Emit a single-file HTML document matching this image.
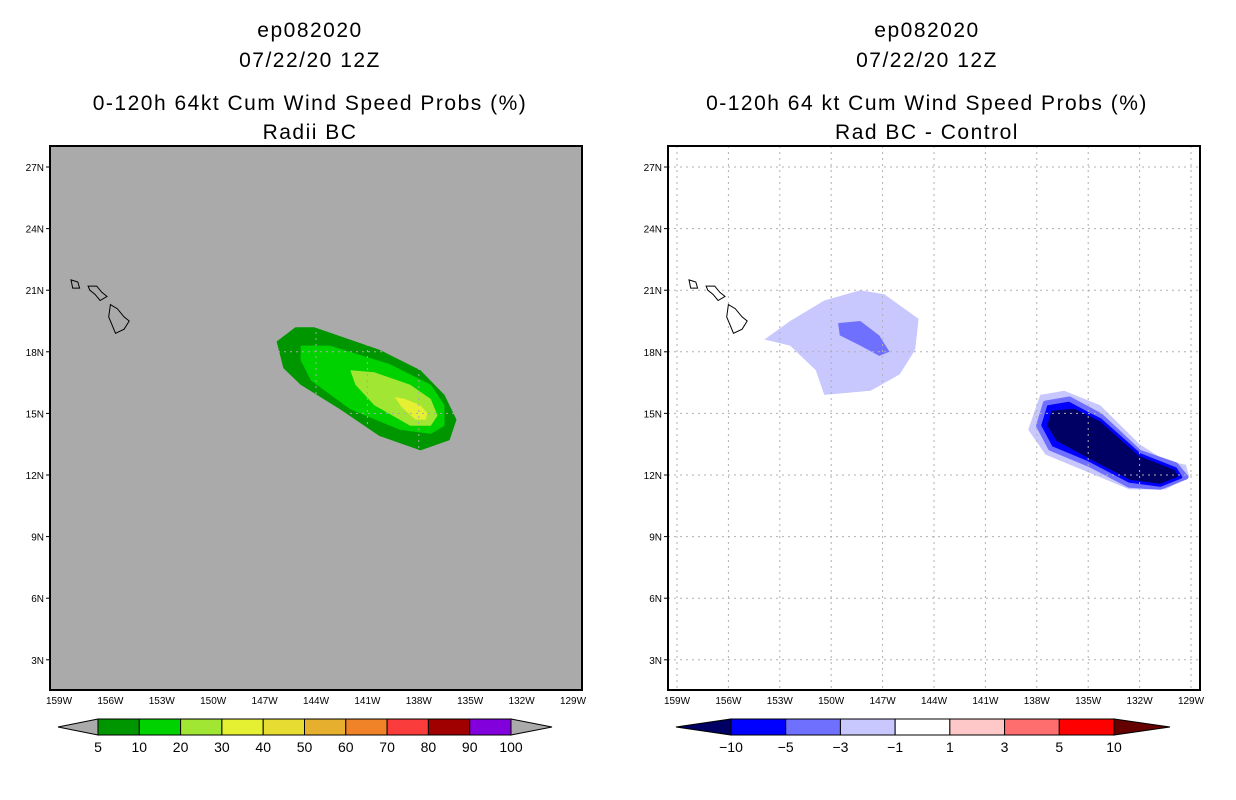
<!DOCTYPE html>
<html><head><meta charset="utf-8"><style>
body{margin:0;background:#fff;width:1236px;height:800px;overflow:hidden}
svg{display:block}
text{font-family:"Liberation Sans",sans-serif}
</style></head><body>
<svg id="s" width="1236" height="800"></svg>
<script>
const lonTicks=[-159,-156,-153,-150,-147,-144,-141,-138,-135,-132,-129];
const latTicks=[27,24,21,18,15,12,9,6,3];
const leftLevels=["5","10","20","30","40","50","60","70","80","90","100"];
const leftColors=["#009600","#00d200","#a0e632","#e6f032","#e6dc32","#e6af2d","#f08228","#fa3c3c","#a00000","#8200dc"];
const rightLevels=["-10","-5","-3","-1","1","3","5","10"];
const rightColors=["#0000ff","#7070ff","#c8c8ff","#ffffff","#ffc8c8","#ff6e6e","#ff0000"];
const left5=[[-146.3,18.5],[-145.2,19.2],[-144.1,19.2],[-140.3,18.1],[-137.9,17.1],[-136.5,15.9],[-135.8,14.7],[-136.2,13.7],[-137.9,13.2],[-140.3,13.9],[-142.6,15.2],[-144.9,16.4],[-145.9,17.2]];
const left10=[[-144.9,18.3],[-143.2,18.3],[-139.7,17.4],[-137.3,16.4],[-136.5,15.4],[-136.5,14.4],[-137.3,14.0],[-139.1,14.2],[-142.0,15.2],[-144.3,16.6],[-144.9,17.6]];
const left20=[[-142.0,17.1],[-140.6,17.0],[-138.5,16.4],[-137.3,15.7],[-136.9,14.9],[-137.3,14.4],[-138.5,14.4],[-140.6,15.4],[-141.7,16.4]];
const left30=[[-139.4,15.8],[-138.8,15.7],[-137.9,15.4],[-137.5,15.0],[-137.6,14.7],[-138.2,14.7],[-139.0,15.3]];
const rUpLight=[[-153.9,18.6],[-152.4,19.5],[-150.4,20.5],[-148.3,21.0],[-146.9,20.8],[-144.9,19.6],[-145.1,18.1],[-146.0,16.9],[-147.7,16.1],[-150.4,15.9],[-150.9,17.1],[-152.4,18.3]];
const rUpMed=[[-149.6,19.4],[-148.3,19.5],[-147.2,18.8],[-146.6,18.0],[-147.2,17.8],[-148.3,18.3],[-149.5,18.8]];
const rLowLight=[[-137.8,15.9],[-136.4,16.1],[-134.3,15.4],[-132.0,13.5],[-130.5,12.7],[-129.3,12.5],[-129.1,11.9],[-130.5,11.3],[-132.6,11.3],[-135.2,12.2],[-137.5,13.0],[-138.5,14.2]];
const rLowBlue=[[-137.5,15.5],[-136.1,15.7],[-134.3,14.9],[-132.0,13.1],[-129.9,12.5],[-129.3,11.9],[-130.8,11.4],[-132.6,11.5],[-134.9,12.5],[-137.2,13.3],[-137.9,14.4]];
const rLowDark=[[-137.2,15.2],[-135.8,15.3],[-134.3,14.7],[-132.0,13.0],[-129.9,12.3],[-129.6,11.9],[-130.8,11.5],[-132.6,11.7],[-134.9,12.7],[-136.9,13.6],[-137.5,14.4]];
const bigIsland=[[-156.0,20.3],[-155.6,20.1],[-155.2,19.7],[-154.9,19.5],[-155.2,19.1],[-155.7,18.9],[-155.9,19.3],[-156.1,19.7]];
const maui=[[-157.3,21.2],[-156.8,21.2],[-156.5,20.9],[-156.2,20.7],[-156.6,20.5],[-156.9,20.8],[-157.2,21.0]];
const oahu=[[-158.3,21.5],[-157.9,21.4],[-157.8,21.1],[-158.2,21.1]];
const NS="http://www.w3.org/2000/svg";
const svg=document.getElementById('s');
function mk(t,a,p){const e=document.createElementNS(NS,t);for(const k in a)e.setAttribute(k,a[k]);(p||svg).appendChild(e);return e;}
const panels=[{x0:50,cx:310,bg:"#aaaaaa",lon0:59,grid:"#a9a9a9",t3:"0-120h 64kt Cum Wind Speed Probs (%)",t4:"Radii BC",name:"left"},
{x0:668,cx:927,bg:"#ffffff",lon0:677,grid:"#b0b0b0",t3:"0-120h 64 kt Cum Wind Speed Probs (%)",t4:"Rad BC - Control",name:"right"}];
panels.forEach((P,pi)=>{
 const g=mk('g',{});
 
 
 const X=lon=>P.lon0+(lon+159)/3*51.4;
 const Y=lat=>167+(27-lat)/3*61.6;
 const poly=(pts,fill,nm,extra)=>{const e=mk('polygon',Object.assign({points:pts.map(p=>X(p[0]).toFixed(1)+','+Y(p[1]).toFixed(1)).join(' '),fill:fill},extra||{}),g);return e;};
 [["ep082020",37],["07/22/20 12Z",67],[P.t3,110],[P.t4,139]].forEach((t,i)=>{const e=mk('text',{x:P.cx,y:t[1],'text-anchor':'middle','font-size':21,'letter-spacing':1.5,fill:'#000'},g);e.textContent=t[0];});
 const bg=mk('rect',{x:P.x0,y:146,width:532,height:544,fill:P.bg},g);
 
 if(pi==0){poly(left5,leftColors[0],'contour-5');poly(left10,leftColors[1],'contour-10');poly(left20,leftColors[2],'contour-20');poly(left30,leftColors[3],'contour-30');}
 else{poly(rUpLight,rightColors[2],'contour-upper-light');poly(rUpMed,rightColors[1],'contour-upper-medium');poly(rLowLight,rightColors[2],'contour-lower-light');poly(rLowBlue,rightColors[0],'contour-lower-blue',{stroke:rightColors[1],'stroke-width':5,'stroke-linejoin':'round'});poly(rLowDark,'#000064','contour-lower-dark',{stroke:'#0000ff','stroke-width':3,'stroke-linejoin':'round'});}
 lonTicks.forEach(l=>{const e=mk('line',{x1:X(l),x2:X(l),y1:146,y2:690,stroke:P.grid,'stroke-dasharray':'2,4','stroke-width':1},g);
  const t=mk('text',{x:X(l),y:704,'text-anchor':'middle','font-size':10,fill:'#000'},g);t.textContent=Math.abs(l)+'W';});
 latTicks.forEach(l=>{const e=mk('line',{x1:P.x0,x2:P.x0+532,y1:Y(l),y2:Y(l),stroke:P.grid,'stroke-dasharray':'2,4','stroke-width':1},g);
  mk('line',{x1:P.x0-4,x2:P.x0,y1:Y(l),y2:Y(l),stroke:'#000'},g);
  const t=mk('text',{x:P.x0-6,y:Y(l)+4,'text-anchor':'end','font-size':10,fill:'#000'},g);t.textContent=l+'N';});
 const isl=pi==0?"#aaaaaa":"#ffffff";
 poly(bigIsland,isl,'hawaii-island',{stroke:'#000','stroke-width':1});
 poly(maui,isl,'maui-island',{stroke:'#000','stroke-width':1});
 poly(oahu,isl,'oahu-island',{stroke:'#000','stroke-width':1});
 const fr=mk('rect',{x:P.x0,y:146,width:532,height:544,fill:'none',stroke:'#000','stroke-width':2},g);
 
 const cb=mk('g',{},g);
 const cols=pi==0?leftColors:rightColors, labs=pi==0?leftLevels:rightLevels;
 const bx0=pi==0?98:731, bx1=pi==0?511:1114, tipL=pi==0?58:676, tipR=pi==0?552:1170;
 const lc=pi==0?'#aaaaaa':'#000064', rc=pi==0?'#aaaaaa':'#640000';
 const w=(bx1-bx0)/cols.length;
 mk('polygon',{points:`${tipL},727 ${bx0},719 ${bx0},735`,fill:lc,stroke:'#000'},cb);
 mk('polygon',{points:`${tipR},727 ${bx1},719 ${bx1},735`,fill:rc,stroke:'#000'},cb);
 cols.forEach((c,i)=>{const r=mk('rect',{x:bx0+i*w,y:719,width:w,height:16,fill:c,stroke:'#000','stroke-width':1},cb);});
 labs.forEach((l,i)=>{const t=mk('text',{x:bx0+i*w,y:752,'text-anchor':'middle','font-size':14,fill:'#000'},cb);t.textContent=l.replace('-','\u2212');});
});
</script>
</body></html>
